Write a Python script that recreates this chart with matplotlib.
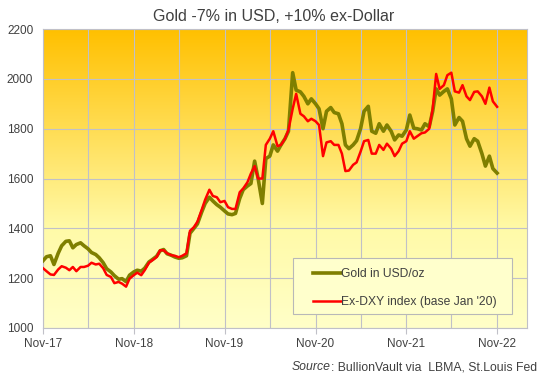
"""Gold in USD vs ex-DXY index, Nov-17 to Nov-22."""

import matplotlib

matplotlib.use("Agg")
import matplotlib.dates as mdates  # noqa: E402
import matplotlib.pyplot as plt  # noqa: E402
import numpy as np  # noqa: E402
import pandas as pd  # noqa: E402
from matplotlib.colors import LinearSegmentedColormap  # noqa: E402
from matplotlib.patches import Rectangle  # noqa: E402

plt.rcParams["font.family"] = ["Liberation Sans", "DejaVu Sans"]

# semi-monthly readings, 1 Nov 2017 .. 1 Nov 2022
dates = pd.date_range("2017-11-01", periods=121, freq="SMS")

gold_usd = [
    1270, 1286, 1290, 1255, 1300, 1330, 1348, 1350, 1322, 1335, 1342, 1330,
    1318, 1303, 1295, 1282, 1262, 1238, 1225, 1210, 1196, 1198, 1186, 1212,
    1225, 1232, 1228, 1240, 1265, 1275, 1288, 1310, 1315, 1298, 1292, 1285,
    1280, 1282, 1290, 1380, 1400, 1418, 1465, 1500, 1525, 1510, 1495, 1485,
    1470, 1458, 1455, 1460, 1520, 1555, 1570, 1580, 1670, 1600, 1500, 1680,
    1690, 1735, 1710, 1735, 1760, 1790, 2025, 1955, 1948, 1930, 1900, 1920,
    1900, 1880, 1800, 1870, 1885, 1865, 1860, 1820, 1735, 1720, 1735, 1752,
    1800, 1870, 1890, 1790, 1782, 1820, 1790, 1815, 1790, 1755, 1775, 1770,
    1795, 1855, 1802, 1800, 1795, 1820, 1808, 1870, 1960, 1935, 1950, 1960,
    1920, 1815, 1845, 1830, 1760, 1730, 1760, 1750, 1700, 1650, 1690, 1640,
    1622,
]

ex_dxy = [
    1240, 1228, 1215, 1213, 1235, 1248, 1242, 1232, 1245, 1228, 1245, 1245,
    1250, 1262, 1255, 1258, 1240, 1213, 1205, 1180, 1185, 1178, 1166, 1198,
    1212, 1222, 1212, 1232, 1262, 1272, 1285, 1312, 1312, 1300, 1292, 1290,
    1284, 1290, 1300, 1390, 1405, 1427, 1474, 1515, 1555, 1530, 1525, 1505,
    1510, 1485, 1478, 1478, 1545, 1560, 1585, 1620, 1650, 1600, 1600, 1735,
    1760, 1790, 1730, 1735, 1760, 1795, 1880, 1940, 1860, 1850, 1830, 1840,
    1830, 1815, 1690, 1745, 1750, 1735, 1735, 1700, 1630, 1632, 1655, 1665,
    1708, 1750, 1755, 1700, 1700, 1735, 1715, 1740, 1720, 1690, 1710, 1740,
    1750, 1790, 1760, 1770, 1782, 1785, 1800, 1880, 2020, 1960, 1975, 2015,
    2025, 1950, 1945, 1975, 1930, 1915, 1948, 1950, 1930, 1900, 1965, 1910,
    1888,
]

labels = ["Gold in USD/oz", "Ex-DXY index (base Jan '20)"]
title = "Gold -7% in USD, +10% ex-Dollar"

fig = plt.figure(figsize=(5.41, 3.78), dpi=100)
ax = fig.add_axes([0.0795, 0.1323, 0.8945, 0.7907])

# background gradient, deep gold at top fading to pale yellow
grad_cmap = LinearSegmentedColormap.from_list(
    "goldfade", [(0.0, "#FFFFC8"), (0.33, "#FFFAA8"), (1.0, "#FFC000")]
)
ax.imshow(
    np.linspace(1, 0, 256).reshape(-1, 1),
    cmap=grad_cmap,
    aspect="auto",
    extent=(0, 1, 0, 1),
    transform=ax.transAxes,
    zorder=0,
)

ax.plot(dates, gold_usd, color="#7F7F00", lw=2.6, zorder=3, label=labels[0])
ax.plot(dates, ex_dxy, color="#FF0000", lw=1.8, zorder=4, label=labels[1])

ax.set_xlim(pd.Timestamp("2017-11-01"), pd.Timestamp("2023-03-01"))
ax.set_ylim(1000, 2200)
ax.set_yticks(range(1000, 2201, 200))

ax.xaxis.set_major_locator(mdates.MonthLocator(bymonth=11, bymonthday=1))
ax.xaxis.set_major_formatter(mdates.DateFormatter("%b-%y"))
ax.xaxis.set_minor_locator(mdates.MonthLocator(bymonth=5, bymonthday=1))

grid_col = "#C0C0C8"
ax.set_axisbelow(False)
ax.grid(True, which="both", color=grid_col, lw=0.8)
for sp in ax.spines.values():
    sp.set_color(grid_col)
    sp.set_linewidth(0.8)

ax.tick_params(axis="x", which="major", length=4, width=0.8, color=grid_col,
               pad=3, labelsize=8.5, labelcolor="#404040")
ax.tick_params(axis="x", which="minor", length=0)
ax.tick_params(axis="y", length=0, pad=7, labelsize=8.5, labelcolor="#404040")

# legend box drawn by hand so the padding matches
ax.add_patch(Rectangle((0.5165, 0.047), 0.4525, 0.187, transform=ax.transAxes,
                       facecolor="#FFFFCC", edgecolor="#B8B8B8", lw=0.8, zorder=5))
leg = ax.legend(loc="upper left", bbox_to_anchor=(0.558, 0.20), frameon=False,
                fontsize=8.7, handlelength=2.3, handletextpad=0.05,
                labelspacing=1.3, borderaxespad=0, borderpad=0)
leg.set_zorder(6)
for t in leg.get_texts():
    t.set_color("#404040")

fig.text(0.505, 0.956, title, ha="center", va="center", fontsize=11.5, color="#404040")

src = fig.text(0.993, 0.028, ": BullionVault via  LBMA, St.Louis Fed", ha="right",
               va="center", fontsize=8.8, color="#404040")
fig.canvas.draw()
bb = src.get_window_extent()
fig.text(bb.x0 / fig.bbox.width, 0.028, "Source", ha="right", va="center",
         fontsize=8.8, color="#404040", style="italic")

fig.savefig("out.png", dpi=100)
